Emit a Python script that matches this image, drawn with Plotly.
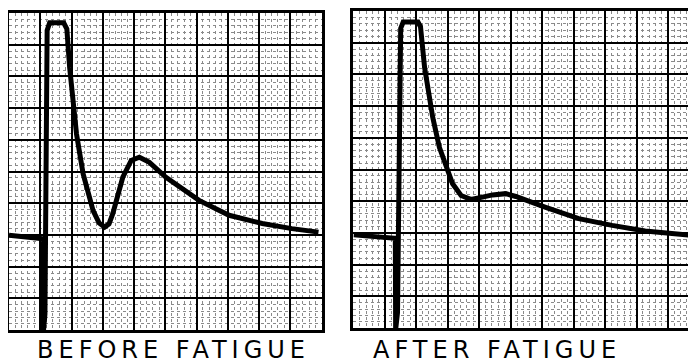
import plotly.graph_objects as go

# Oscilloscope traces, in graticule divisions (x: time, y: amplitude)
before_x = [0.0, 1.04, 1.09, 1.10, 1.15, 1.22, 1.30, 1.75, 1.85, 1.94, 2.16, 2.37, 2.69, 2.88, 3.06, 3.20, 3.32, 3.64, 3.91, 4.17, 4.49, 5.02, 6.08, 7.04, 8.10, 9.05, 9.90]
before_y = [2.99, 2.88, 2.88, -0.05, 0.5, 9.45, 9.69, 9.69, 9.5, 8.28, 6.18, 4.93, 3.77, 3.38, 3.25, 3.35, 3.67, 4.82, 5.35, 5.45, 5.29, 4.82, 4.09, 3.62, 3.36, 3.20, 3.09]

after_x = [0.0, 1.30, 1.33, 1.34, 1.40, 1.50, 1.58, 2.05, 2.13, 2.26, 2.52, 2.73, 2.94, 3.15, 3.42, 3.73, 4.10, 4.42, 4.84, 5.16, 6.11, 7.16, 8.22, 9.27, 10.8]
after_y = [2.94, 2.83, 2.83, -0.05, 0.5, 9.45, 9.65, 9.65, 9.5, 8.22, 6.64, 5.70, 5.07, 4.55, 4.18, 4.06, 4.13, 4.20, 4.24, 4.15, 3.81, 3.45, 3.24, 3.06, 2.92]

labels = ["BEFORE FATIGUE", "AFTER FATIGUE"]

# The page body has an 8 px margin, so the figure is placed 8 px in.
OFF = 8
W, H = 696 - OFF, 364 - OFF
fig = go.Figure()
fig.add_trace(go.Scatter(x=before_x, y=before_y, mode="lines",
                         line=dict(color="black", width=5), xaxis="x", yaxis="y",
                         showlegend=False, hoverinfo="skip"))
fig.add_trace(go.Scatter(x=after_x, y=after_y, mode="lines",
                         line=dict(color="black", width=5), xaxis="x2", yaxis="y2",
                         showlegend=False, hoverinfo="skip"))

def px(v):
    return (v - OFF) / W

def py(v):
    return (H - (v - OFF)) / H

def ax(domain, rng):
    return dict(domain=domain, range=rng, dtick=1, tick0=0, showgrid=True,
                gridcolor="black", gridwidth=2.2, zeroline=False, showline=True,
                linecolor="black", linewidth=2.5, mirror=True, showticklabels=False,
                ticks="", fixedrange=True,
                minor=dict(dtick=0.2, showgrid=True, gridcolor="#8a8a8a",
                           gridwidth=1, griddash="dot"))

fig.update_layout(
    width=W, height=H,
    margin=dict(l=0, r=0, t=0, b=0),
    paper_bgcolor="white", plot_bgcolor="white",
    xaxis=ax([max(px(9), 0), px(323)], [0, 10]),
    yaxis=ax([py(330), py(12)], [0, 10]),
    xaxis2=ax([px(355), 1.0], [0, (696 - 355) / 31.6]),
    yaxis2=ax([py(328), py(10)], [0, 10]),
    font=dict(family="DejaVu Sans", color="black"),
)
fig.update_layout(xaxis2=dict(anchor="y2"), yaxis2=dict(anchor="x2"))

for text, cx in zip(labels, [174.5, 499.5]):
    fig.add_annotation(x=px(cx), y=py(349.5), xref="paper", yref="paper",
                       xanchor="center", yanchor="middle",
                       text='<span style="letter-spacing:5px">' + text + "</span>",
                       showarrow=False, font=dict(size=24, color="black"))

fig.write_html("out.html")
